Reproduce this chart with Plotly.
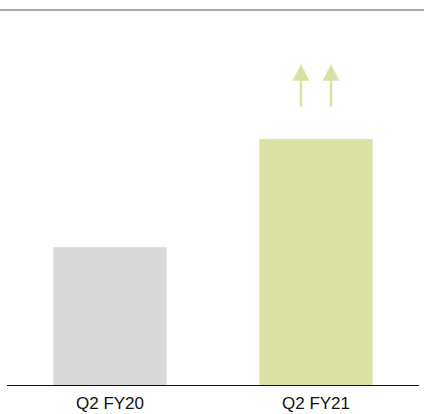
import plotly.graph_objects as go

categories = ["Q2 FY20", "Q2 FY21"]
values = [56, 100]
bar_colors = ["#d9d9d9", "#dbe1a3"]
arrow_tail = 112.6
arrow_head = 130.5

W, H = 424, 414
ml, mr, mt, mb = 7, 5, 10, 29
pw = W - ml - mr

fig = go.Figure(go.Bar(x=categories, y=values, marker=dict(color=bar_colors, line=dict(width=0)),
                       hoverinfo="skip"))

for dx in (-15, 15):
    fig.add_annotation(x=categories[1], y=arrow_head, ax=categories[1], ay=arrow_tail,
                       xref="x", yref="y", axref="x", ayref="y", xshift=dx,
                       showarrow=True, arrowhead=2, arrowsize=1.35, arrowwidth=2.5,
                       arrowcolor="#dbe1a3", text="")

fig.add_shape(type="line", xref="paper", yref="paper", x0=-ml / pw, x1=1 + mr / pw, y0=1, y1=1,
              line=dict(color="#aaaaaa", width=2))

fig.update_layout(
    width=W, height=H, margin=dict(l=ml, r=mr, t=mt, b=mb, autoexpand=False),
    paper_bgcolor="white", plot_bgcolor="white",
    bargap=0.45, showlegend=False,
    font=dict(family="Liberation Sans, Arial, sans-serif", size=17, color="#111111"),
    xaxis=dict(showline=True, linecolor="#111111", linewidth=1, ticks="", showgrid=False,
               automargin=False,
               tickfont=dict(size=17, color="#111111"), ticklabelstandoff=3),
    yaxis=dict(range=[0, 152.4], visible=False, showgrid=False, automargin=False),
)

fig.write_html("out.html")
